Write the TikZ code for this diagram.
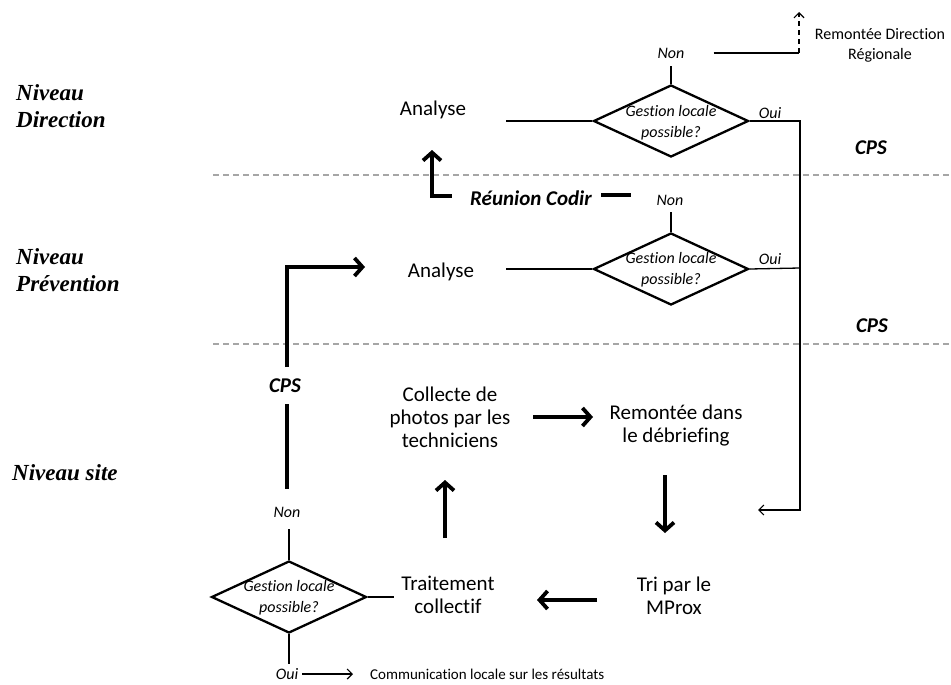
\documentclass[tikz,border=0pt]{standalone}
\usepackage{fontspec}
\setmainfont{Carlito}[Ligatures={NoCommon,NoContextual}]
\newfontfamily\lvlfont{Liberation Serif}
\usetikzlibrary{shapes.geometric,arrows.meta}
\begin{document}
\begin{tikzpicture}[x=1pt,y=-1pt,
  txt/.style={inner sep=0pt, align=center, font=\fontsize{21}{23}\selectfont},
  smalltxt/.style={inner sep=0pt, align=center, font=\fontsize{16}{21}\selectfont\itshape},
  lvl/.style={inner sep=0pt, anchor=west, align=left, font=\lvlfont\fontsize{23}{27}\selectfont\bfseries\itshape},
  bi/.style={inner sep=0pt, font=\fontsize{21}{23}\selectfont\bfseries\itshape},
  dmd/.style={diamond, draw, line width=2.3pt, minimum width=155pt, minimum height=72pt, inner sep=0pt},
  ln/.style={line width=1.3pt},
  thickln/.style={line width=3.8pt},
  bigarrow/.style={line width=3.8pt, -{Straight Barb[length=8pt,width=18pt]}},
  smallarrow/.style={line width=1.2pt, -{Straight Barb[length=5pt,width=10pt]}},
  sepline/.style={draw=gray!70, line width=1.2pt, dash pattern=on 6pt off 4pt}
]
\fill[white] (0,0) rectangle (951,685);
\useasboundingbox (0,0) rectangle (951,685);

% level labels
\node[lvl] (lvlD) at (16,106) {Niveau\\Direction};
\node[lvl] (lvlP) at (16,270) {Niveau\\Prévention};
\node[lvl] (lvlS) at (12,473) {Niveau site};

% separators
\coordinate (s1a) at (213,175); \coordinate (s1b) at (951,175);
\coordinate (s2a) at (213,344); \coordinate (s2b) at (951,344);
\draw[sepline] (s1a) -- (s1b);
\draw[sepline] (s2a) -- (s2b);

% ---- Direction level
\node[dmd] (dD) at (671,121) {};
\node[smalltxt] (dDt) at (671,123) {Gestion locale\\possible?};
\node[smalltxt] (nonD) at (671,53) {Non};
\node[smalltxt] (ouiD) at (770,113) {Oui};
\node[txt] (anaD) at (433,110) {Analyse};
\node[inner sep=0pt, align=center, font=\fontsize{16}{20}\selectfont] (remD) at (880,45) {Remontée Direction\\Régionale};
\node[bi] (cpsD) at (871,148) {CPS};

\coordinate (cR) at (799,53);
\coordinate (cRtop) at (799,12);
\draw[ln] (dD.north) -- ++(0,-18);
\draw[ln] ([shift={(29,0)}]nonD.east) -- (cR);
\draw[line width=1.2pt, dash pattern=on 5pt off 4pt, -{Straight Barb[length=5pt,width=10pt]}] (cR) -- (cRtop);
\draw[ln] (dD.west) -- ++(-86,0);

\coordinate (cV1) at (800,121);
\coordinate (cV2) at (800,268);
\coordinate (cV3) at (800,510);
\coordinate (cIn) at (758,510);
\draw[smallarrow] (dD.east) -- (cV1) -- (cV3) -- (cIn);

% ---- Prevention level
\node[dmd] (dP) at (671,269) {};
\node[smalltxt] (dPt) at (671,270) {Gestion locale\\possible?};
\node[smalltxt] (nonP) at (670,200) {Non};
\node[smalltxt] (ouiP) at (770,259) {Oui};
\node[txt] (anaP) at (441,272) {Analyse};
\node[bi] (cpsP) at (872,326) {CPS};
\node[bi] (codir) at (531,198) {Réunion Codir};
\coordinate (cUp) at (432,150);

\draw[ln] (dP.north) -- ++(0,-20);
\draw[ln] (dP.west) -- ++(-86,0);
\draw[ln] (dP.east) -- (cV2);
\draw[thickln] ([shift={(9,-3)}]codir.east) -- ++(30,0);
\draw[bigarrow] ([shift={(-18,-2)}]codir.west) -| (cUp);

% ---- Site level
\node[bi] (cpsL) at (285,386) {CPS};
\node[smalltxt] (nonS) at (287,512) {Non};
\node[txt] (col) at (450,417) {Collecte de\\photos par les\\techniciens};
\node[txt] (rem) at (676,426) {Remontée dans\\le débriefing};
\node[txt] (tri) at (674,596) {Tri par le\\MProx};
\node[txt] (trt) at (448,595) {Traitement\\collectif};
\node[dmd] (dS) at (289,597) {};
\node[smalltxt] (dSt) at (289,598) {Gestion locale\\possible?};
\node[smalltxt] (ouiS) at (287,674) {Oui};
\node[inner sep=0pt, anchor=west, font=\fontsize{15}{18}\selectfont] (comm) at (370,674) {Communication locale sur les résultats};

\draw[bigarrow] ([shift={(2,-19)}]cpsL.center) |- ([shift={(-76,-5)}]anaP.center);
\draw[thickln] ([shift={(2,18)}]cpsL.center) -- ([shift={(0,-23)}]nonS.center);

\draw[bigarrow] ([shift={(83,0)}]col.center) -- ([shift={(-83,-9)}]rem.center);
\draw[bigarrow] ([shift={(-11,49)}]rem.center) -- ([shift={(-9,-63)}]tri.center);
\draw[bigarrow] ([shift={(-77,4)}]tri.center) -- ([shift={(89,5)}]trt.center);
\draw[bigarrow] ([shift={(-3,-57)}]trt.center) -- ([shift={(-5,63)}]col.center);

\draw[ln] (dS.east) -- ++(26,0);
\draw[ln] (dS.north) -- ++(0,-31);
\draw[ln] (dS.south) -- ++(0,30);
\draw[smallarrow] ([shift={(15,0)}]ouiS.center) -- ([shift={(-17,0)}]comm.west);
\end{tikzpicture}
\end{document}
